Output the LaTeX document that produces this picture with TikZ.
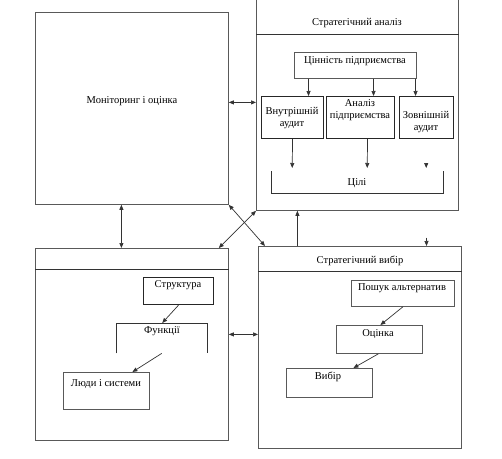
\documentclass[tikz,border=0pt]{standalone}
\usepackage{fontspec}
\setmainfont{Liberation Serif}
\usetikzlibrary{arrows.meta}
\begin{document}
\begin{tikzpicture}[x=1pt,y=-1pt,
  box/.style={draw=black!65, line width=0.8pt, inner sep=0pt, anchor=north west},
  boxd/.style={draw=black!85, line width=1.1pt, inner sep=0pt, anchor=north west},
  area/.style={inner sep=0pt, anchor=north west},
  txt/.style={inner sep=0pt, font=\fontsize{10.5}{12.5}\selectfont, text=black, align=center},
  ln/.style={draw=black!80, line width=0.7pt},
  arr/.style={ln, -{Triangle[length=5pt,width=4pt]}},
  dbl/.style={ln, {Triangle[length=5pt,width=4pt]}-{Triangle[length=5pt,width=4pt]}}]
\useasboundingbox (0,0) rectangle (502,458);
\fill[white] (0,0) rectangle (502,458);

% Monitoring
\node[box, minimum width=193pt, minimum height=192pt] (mon) at (35,12) {};
\node[txt] (monT) at (132,101) {Моніторинг і оцінка};

% Strategic analysis
\node[box, minimum width=202pt, minimum height=220pt] (sa) at (256,-10) {};
\draw[ln] ([yshift=-44pt]sa.north west) -- ([yshift=-44pt]sa.north east);
\node[txt] (saT) at (357,23) {Стратегічний аналіз};
\node[box, minimum width=122pt, minimum height=26pt] (val) at (294,52) {};
\node[txt] (valT) at (355,61) {Цінність підприємства};
\node[boxd, minimum width=62pt, minimum height=42pt] (int) at (261,96) {};
\node[txt] (intT) at (292,118) {Внутрішній\\аудит};
\node[boxd, minimum width=68pt, minimum height=42pt] (an) at (326,96) {};
\node[txt] (anT) at (360,110) {Аналіз\\підприємства};
\node[boxd, minimum width=54pt, minimum height=42pt] (ext) at (399,96) {};
\node[txt] (extT) at (426,122) {Зовнішній\\аудит};
\draw[arr] ([xshift=-47pt]val.south) -- ([xshift=16pt]int.north);
\draw[arr] ([xshift=18pt]val.south) -- ([xshift=13pt]an.north);
\draw[arr] ([xshift=60pt]val.south) -- ([xshift=-11pt]ext.north);
\node[area, minimum width=172pt, minimum height=22pt] (goals) at (271,171) {};
\draw[ln] (goals.north west) -- (goals.south west) -- (goals.south east) -- (goals.north east);
\node[txt] (goalsT) at (357,183) {Цілі};
\draw[arr] (int.south) -- ([xshift=-65pt,yshift=3pt]goals.north);
\draw[arr] ([xshift=7pt]an.south) -- ([xshift=10pt,yshift=3pt]goals.north);
\draw[arr] ([xshift=69pt,yshift=8pt]goals.north) -- ([xshift=69pt,yshift=3pt]goals.north);

% Lower left
\node[box, minimum width=193pt, minimum height=192pt] (ll) at (35,248) {};
\draw[ln] ([yshift=-21pt]ll.north west) -- ([yshift=-21pt]ll.north east);
\node[boxd, minimum width=70pt, minimum height=27pt] (str) at (143,277) {};
\node[txt] (strT) at (178,285) {Структура};
\node[area, minimum width=91pt, minimum height=30pt] (fun) at (116,323) {};
\draw[ln] (fun.south west) -- (fun.north west) -- (fun.north east) -- (fun.south east);
\node[txt] (funT) at (162,331) {Функції};
\node[box, minimum width=86pt, minimum height=37pt] (ppl) at (63,372) {};
\node[txt] (pplT) at (106,384) {Люди і системи};
\draw[arr] (str.south) -- ([xshift=0.5pt]fun.north);
\draw[arr] (fun.south) -- ([xshift=26pt]ppl.north);

% Strategic choice
\node[box, minimum width=203pt, minimum height=202pt] (sc) at (258,246) {};
\draw[ln] ([yshift=-25pt]sc.north west) -- ([yshift=-25pt]sc.north east);
\node[txt] (scT) at (360,261) {Стратегічний вибір};
\node[box, minimum width=103pt, minimum height=26pt] (alt) at (351,280) {};
\node[txt] (altT) at (402,288) {Пошук альтернатив};
\node[box, minimum width=86pt, minimum height=28pt] (oc) at (336,325) {};
\node[txt] (ocT) at (378,334) {Оцінка};
\node[box, minimum width=86pt, minimum height=29pt] (vyb) at (286,368) {};
\node[txt] (vybT) at (328,377) {Вибір};
\draw[arr] (alt.south) -- ([xshift=1pt]oc.north);
\draw[arr] ([xshift=-1pt]oc.south) -- ([xshift=24pt]vyb.north);

% Connections between blocks
\draw[dbl] ([yshift=6pt]mon.east) -- ([yshift=-2pt]sa.west);
\draw[dbl] ([xshift=-10.5pt]mon.south) -- ([xshift=-10.5pt]ll.north);
\draw[dbl] ([yshift=10pt]ll.east) -- ([yshift=13pt]sc.west);
\draw[arr] ([xshift=-62.5pt]sc.north) -- ([xshift=-60pt]sa.south);
\draw[dbl] (mon.south east) -- ([xshift=7pt]sc.north west);
\draw[dbl] ([xshift=-10pt]ll.north east) -- (sa.south west);
\draw[arr] ([xshift=66.5pt,yshift=8pt]sc.north) -- (sc.north -| ext.center);
\end{tikzpicture}
\end{document}
